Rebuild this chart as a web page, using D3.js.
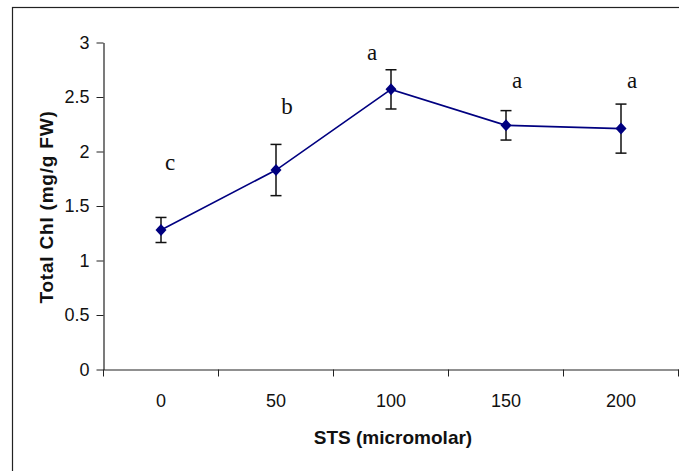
<!DOCTYPE html>
<html>
<head>
<meta charset="utf-8">
<script src="https://cdn.jsdelivr.net/npm/d3@7"></script>
<style>
  body { margin: 0; background: #fff; }
  svg { display: block; }
</style>
</head>
<body>
<svg id="chart"></svg>
<script>
var width = 679;
var height = 471;

// data
var concentrations = ['0', '50', '100', '150', '200'];
var totalChl = [1.28, 1.83, 2.57, 2.24, 2.21];
var errors = [0.115, 0.235, 0.18, 0.135, 0.225];
var letters = ['c', 'b', 'a', 'a', 'a'];
var letterLevels = [1.83, 2.34, 2.84, 2.58, 2.58];
var yTicks = [0, 0.5, 1, 1.5, 2, 2.5, 3];

// letter nudges (px), the way they sit in the figure
var letterDx = [9, 11, -19, 11, 11];

var plot = {left: 103.5, right: 678.5, top: 42.5, bottom: 369.5};

var svg = d3.select('#chart')
	.attr('width', width)
	.attr('height', height);

svg.append('rect')
	.attr('width', width)
	.attr('height', height)
	.attr('fill', '#fff');

// outer frame (only left and top fall inside the picture)
svg.append('rect')
	.attr('x', 12.5)
	.attr('y', 7.5)
	.attr('width', 700)
	.attr('height', 500)
	.attr('fill', 'none')
	.attr('stroke', '#222')
	.attr('stroke-width', 1.2);

var x = d3.scaleBand()
	.domain(concentrations)
	.range([plot.left, plot.right])
	.padding(0);

var y = d3.scaleLinear()
	.domain([0, 3])
	.range([plot.bottom, plot.top]);

var yAxis = d3.axisLeft(y)
	.tickValues(yTicks)
	.tickSize(7)
	.tickPadding(7)
	.tickSizeOuter(0)
	.tickFormat(d3.format(''));

var gy = svg.append('g')
	.attr('transform', 'translate(' + plot.left + ',0)')
	.call(yAxis);

var xAxis = d3.axisBottom(x)
	.tickSize(0)
	.tickPadding(25)
	.tickSizeOuter(0);

var gx = svg.append('g')
	.attr('transform', 'translate(0,' + plot.bottom + ')')
	.call(xAxis);

// ticks sit between the categories
var bounds = concentrations.map(function(c) { return x(c); }).concat([x(concentrations[concentrations.length - 1]) + x.step()]);
gx.selectAll('.bound')
	.data(bounds)
	.enter().append('line')
	.attr('class', 'bound')
	.attr('x1', function(d) { return d; })
	.attr('x2', function(d) { return d; })
	.attr('y1', 0)
	.attr('y2', 7)
	.attr('stroke', '#222');

[gx, gy].forEach(function(g) {
	g.select('.domain').attr('stroke', '#222').attr('stroke-width', 1.2);
	g.selectAll('.tick line').attr('stroke', '#222');
	g.selectAll('.tick text')
		.attr('fill', '#111')
		.style('font-family', '"Liberation Sans", Arial, sans-serif')
		.style('font-size', '18px');
});

svg.append('text')
	.attr('transform', 'translate(53,' + ((plot.top + plot.bottom) / 2 + 1) + ') rotate(-90)')
	.attr('text-anchor', 'middle')
	.style('font-family', '"Liberation Sans", Arial, sans-serif')
	.style('font-size', '19px')
	.style('font-weight', 'bold')
	.style('letter-spacing', '0.8px')
	.attr('fill', '#111')
	.text('Total Chl (mg/g FW)');

svg.append('text')
	.attr('x', 393)
	.attr('y', 444)
	.attr('text-anchor', 'middle')
	.style('font-family', '"Liberation Sans", Arial, sans-serif')
	.style('font-size', '19px')
	.style('font-weight', 'bold')
	.attr('fill', '#111')
	.text('STS (micromolar)');

var points = concentrations.map(function(c, i) {
	return {c: c, v: totalChl[i], e: errors[i], letter: letters[i], ly: letterLevels[i], dx: letterDx[i]};
});

var cx = function(d) { return x(d.c) + x.bandwidth() / 2; };

// error bars
var eb = svg.append('g').attr('stroke', '#111').attr('stroke-width', 1.5);
points.forEach(function(d) {
	eb.append('line').attr('x1', cx(d)).attr('x2', cx(d))
		.attr('y1', y(d.v - d.e)).attr('y2', y(d.v + d.e));
	eb.append('line').attr('x1', cx(d) - 5.5).attr('x2', cx(d) + 5.5)
		.attr('y1', y(d.v + d.e)).attr('y2', y(d.v + d.e));
	eb.append('line').attr('x1', cx(d) - 5.5).attr('x2', cx(d) + 5.5)
		.attr('y1', y(d.v - d.e)).attr('y2', y(d.v - d.e));
});

var line = d3.line()
	.x(cx)
	.y(function(d) { return y(d.v); });

svg.append('path')
	.datum(points)
	.attr('d', line)
	.attr('fill', 'none')
	.attr('stroke', '#000080')
	.attr('stroke-width', 1.6);

svg.selectAll('.marker')
	.data(points)
	.enter().append('path')
	.attr('class', 'marker')
	.attr('d', 'M0,-6L5.5,0L0,6L-5.5,0Z')
	.attr('transform', function(d) { return 'translate(' + cx(d) + ',' + y(d.v) + ')'; })
	.attr('fill', '#000080');

svg.selectAll('.letter')
	.data(points)
	.enter().append('text')
	.attr('class', 'letter')
	.attr('x', function(d) { return cx(d) + d.dx; })
	.attr('y', function(d) { return y(d.ly); })
	.attr('text-anchor', 'middle')
	.style('font-family', '"Liberation Serif", "Times New Roman", serif')
	.style('font-size', '23px')
	.attr('fill', '#111')
	.text(function(d) { return d.letter; });
</script>
</body>
</html>
